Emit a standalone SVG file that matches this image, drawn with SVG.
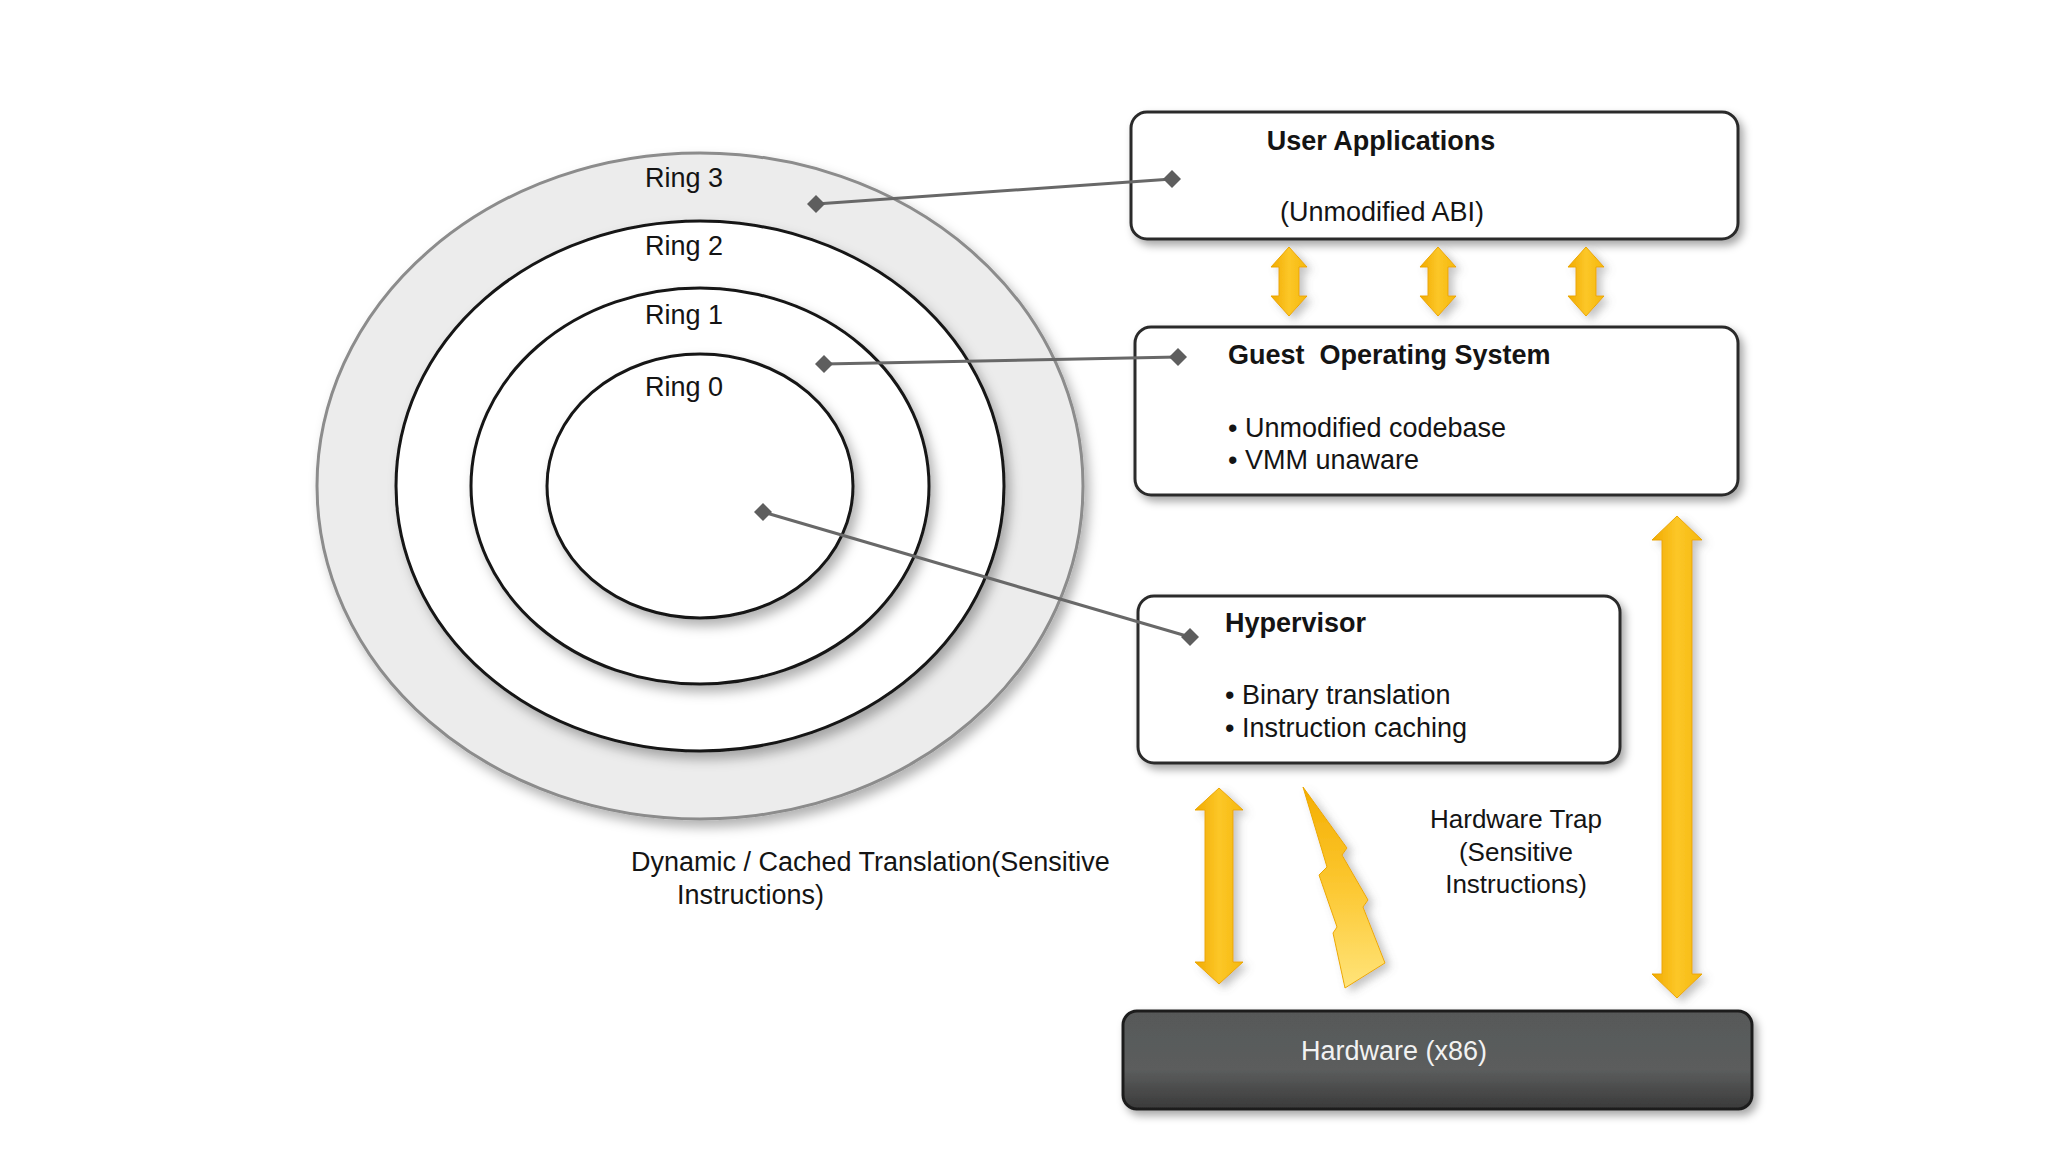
<svg xmlns="http://www.w3.org/2000/svg" width="2048" height="1152" viewBox="0 0 2048 1152">
  <defs>
    <style>
      .t { font-family: "Liberation Sans", Arial, sans-serif; font-size: 27px; fill: #141414; }
      .b { font-weight: bold; }
      .c { text-anchor: middle; }
      .box { fill: #ffffff; stroke: #2a2a2a; stroke-width: 3; }
      .ring { fill: #ffffff; stroke: #151515; stroke-width: 3; }
      .conn { stroke: #686868; stroke-width: 3; fill: none; }
      .dia { fill: #5e5e5e; }
      .arrow { fill: url(#gold); stroke: #eba600; stroke-width: 1; }
    </style>
    <linearGradient id="gold" x1="0" y1="0" x2="1" y2="0">
      <stop offset="0" stop-color="#f1aa00"/>
      <stop offset="0.5" stop-color="#fcc728"/>
      <stop offset="1" stop-color="#f5b80c"/>
    </linearGradient>
    <linearGradient id="bolt" x1="0" y1="0" x2="0" y2="1">
      <stop offset="0" stop-color="#f4ae00"/>
      <stop offset="0.5" stop-color="#fcc832"/>
      <stop offset="1" stop-color="#ffe47a"/>
    </linearGradient>
    <linearGradient id="hw" x1="0" y1="0" x2="0" y2="1">
      <stop offset="0" stop-color="#575959"/>
      <stop offset="0.6" stop-color="#5b5d5d"/>
      <stop offset="1" stop-color="#3a3a3a"/>
    </linearGradient>
    <filter id="sh" x="-10%" y="-10%" width="125%" height="130%">
      <feDropShadow dx="4" dy="5" stdDeviation="4" flood-color="#000" flood-opacity="0.35"/>
    </filter>
    <filter id="rsh" x="-10%" y="-10%" width="125%" height="125%">
      <feDropShadow dx="5" dy="7" stdDeviation="6" flood-color="#000" flood-opacity="0.3"/>
    </filter>
    <filter id="ash" x="-50%" y="-10%" width="220%" height="125%">
      <feDropShadow dx="5" dy="4" stdDeviation="4" flood-color="#6a6a6a" flood-opacity="0.4"/>
    </filter>
  </defs>
  <rect width="2048" height="1152" fill="#ffffff"/>

  <g id="rings">
    <ellipse cx="700" cy="486" rx="383" ry="333" fill="#ececec" stroke="#8c8c8c" stroke-width="3" filter="url(#rsh)"/>
    <ellipse class="ring" cx="700" cy="486" rx="304" ry="265" filter="url(#rsh)"/>
    <ellipse class="ring" cx="700" cy="486" rx="229" ry="198" filter="url(#rsh)"/>
    <ellipse class="ring" cx="700" cy="486" rx="153" ry="132" filter="url(#rsh)"/>
    <text class="t c" x="684" y="187">Ring 3</text>
    <text class="t c" x="684" y="255">Ring 2</text>
    <text class="t c" x="684" y="324">Ring 1</text>
    <text class="t c" x="684" y="396">Ring 0</text>
  </g>

  <g id="user-applications">
    <rect class="box" x="1131" y="112" width="607" height="127" rx="16" filter="url(#sh)"/>
    <text class="t b c" x="1381" y="150">User Applications</text>
    <text class="t c" x="1382" y="221">(Unmodified ABI)</text>
  </g>

  <g id="guest-os">
    <rect class="box" x="1135" y="327" width="603" height="168" rx="16" filter="url(#sh)"/>
    <text class="t b" x="1228" y="364" xml:space="preserve">Guest  Operating System</text>
    <text class="t" x="1228" y="437">• Unmodified codebase</text>
    <text class="t" x="1228" y="469">• VMM unaware</text>
  </g>

  <g id="hypervisor">
    <rect class="box" x="1138" y="596" width="482" height="167" rx="16" filter="url(#sh)"/>
    <text class="t b" x="1225" y="632">Hypervisor</text>
    <text class="t" x="1225" y="704">• Binary translation</text>
    <text class="t" x="1225" y="737">• Instruction caching</text>
  </g>

  <g id="hardware">
    <rect x="1123" y="1011" width="629" height="98" rx="14" fill="url(#hw)" stroke="#1e1e1e" stroke-width="3" filter="url(#sh)"/>
    <text class="t c" x="1394" y="1060" fill="#f2f2f2" style="fill:#f2f2f2">Hardware (x86)</text>
  </g>

  <g id="labels">
    <text class="t" x="631" y="871">Dynamic / Cached Translation(Sensitive</text>
    <text class="t" x="677" y="904">Instructions)</text>
    <text class="t c" x="1516" y="828" style="font-size:26px">Hardware Trap</text>
    <text class="t c" x="1516" y="861" style="font-size:26px">(Sensitive</text>
    <text class="t c" x="1516" y="893" style="font-size:26px">Instructions)</text>
  </g>

  <g id="connectors">
    <line class="conn" x1="816" y1="204" x2="1172" y2="179"/>
    <path class="dia" d="M816,195 L825,204 L816,213 L807,204 Z"/>
    <path class="dia" d="M1172,170 L1181,179 L1172,188 L1163,179 Z"/>
    <line class="conn" x1="824" y1="364" x2="1178" y2="357"/>
    <path class="dia" d="M824,355 L833,364 L824,373 L815,364 Z"/>
    <path class="dia" d="M1178,348 L1187,357 L1178,366 L1169,357 Z"/>
    <line class="conn" x1="763" y1="512" x2="1190" y2="637"/>
    <path class="dia" d="M763,503 L772,512 L763,521 L754,512 Z"/>
    <path class="dia" d="M1190,628 L1199,637 L1190,646 L1181,637 Z"/>

    <g filter="url(#ash)">
      <path class="arrow" d="M1289,247 L1307,267 L1299,267 L1299,296 L1307,296 L1289,316 L1271,296 L1279,296 L1279,267 L1271,267 Z"/>
      <path class="arrow" d="M1438,247 L1456,267 L1448,267 L1448,296 L1456,296 L1438,316 L1420,296 L1428,296 L1428,267 L1420,267 Z"/>
      <path class="arrow" d="M1586,247 L1604,267 L1596,267 L1596,296 L1604,296 L1586,316 L1568,296 L1576,296 L1576,267 L1568,267 Z"/>
      <path class="arrow" d="M1219,788 L1243,810 L1233,810 L1233,962 L1243,962 L1219,984 L1195,962 L1205,962 L1205,810 L1195,810 Z"/>
      <path class="arrow" d="M1677,516 L1702,540 L1692,540 L1692,974 L1702,974 L1677,998 L1652,974 L1662,974 L1662,540 L1652,540 Z"/>
      <path d="M1303,787 L1347,848 L1342,855 L1368,900 L1363,907 L1385,963 L1345,988 L1333,933 L1337,927 L1319,875 L1327,867 Z" fill="url(#bolt)" stroke="#eca800" stroke-width="1"/>
    </g>
  </g>
</svg>
